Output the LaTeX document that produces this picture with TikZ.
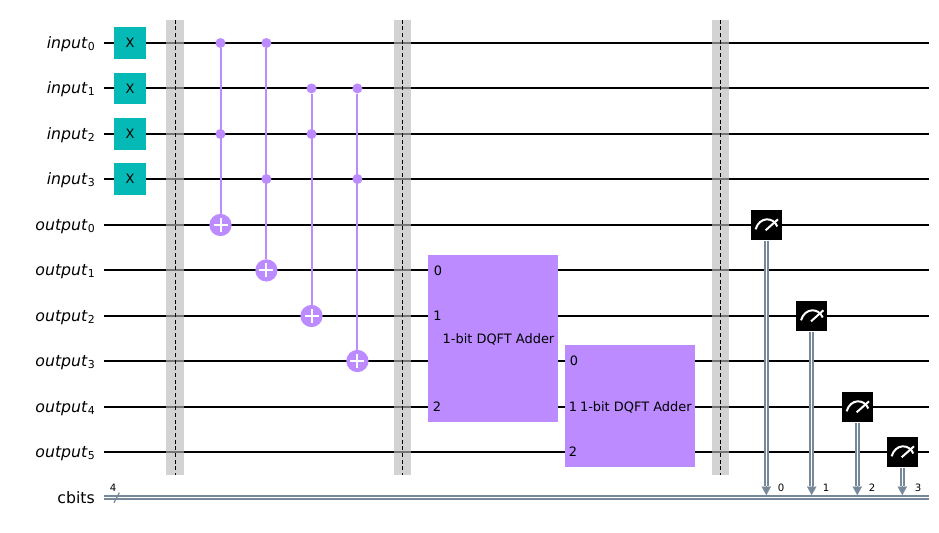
\documentclass[tikz,border=0pt]{standalone}
\usepackage{fontspec}
\setmainfont{DejaVu Sans}
\usetikzlibrary{arrows.meta,calc}

\definecolor{xteal}{HTML}{05BAB6}
\definecolor{gatepurple}{HTML}{BB8BFF}
\definecolor{cregray}{HTML}{778899}

\tikzset{
    qwire/.style={line width=1.5pt,black},
    cwire/.style={draw=cregray,line width=1.2pt,double=white,double distance=1.1pt},
    ctip/.style={draw=cregray,fill=cregray,line width=0.1pt,-{Triangle[length=6.3pt,width=7pt]}},
    qlabel/.style={anchor=base east,inner sep=0pt,font=\fontsize{11.8}{12}\selectfont},
    gatetext/.style={inner sep=0pt,font=\fontsize{9.7}{10}\selectfont},
    smalltext/.style={inner sep=0pt,font=\fontsize{7.6}{8}\selectfont},
    xgate/.style={fill=xteal,minimum size=23.4pt,inner sep=0pt,font=\fontsize{9.7}{10}\selectfont},
    barrierbox/.style={fill=black!27,fill opacity=0.64,minimum width=13pt,minimum height=341.2pt,inner sep=0pt},
    barrierline/.style={densely dashed,line width=0.75pt,black},
    ctrldot/.style={circle,fill=gatepurple,minimum size=7.5pt,inner sep=0pt},
    targetdot/.style={circle,fill=gatepurple,minimum size=16.7pt,inner sep=0pt},
    cxline/.style={gatepurple,line width=1.5pt},
    plusline/.style={white,line width=1.5pt},
    adderbox/.style={fill=gatepurple,minimum width=97pt,inner sep=0pt},
    measbox/.style={fill=black,minimum size=23.2pt,inner sep=0pt},
    meterline/.style={white,line width=1.5pt},
}

\newcommand{\reglabel}[2]{\textit{#1}\raisebox{-0.3ex}{\fontsize{8.2}{8}\selectfont #2}}
\newcommand{\plussign}[1]{%
    \draw[plusline] ($(#1)+(-7,0)$) -- ($(#1)+(7,0)$);
    \draw[plusline] ($(#1)+(0,-7)$) -- ($(#1)+(0,7)$);}
\newcommand{\metersign}[1]{%
    \draw[meterline] ($(#1)+(-10.7,4.3)$) .. controls ($(#1)+(-7,-8.5)$) and ($(#1)+(7,-8.5)$) .. ($(#1)+(11,1.5)$);
    \draw[meterline] ($(#1)+(-0.7,5.3)$) -- ($(#1)+(11.7,-5.7)$);}

\begin{document}
\begin{tikzpicture}[x=0.75pt,y=-0.75pt]
    \useasboundingbox (0,0) rectangle (939,532);

    % Register labels
    \node[qlabel] (linput0) at (95,48) {\reglabel{input}{0}};
    \node[qlabel] (linput1) at (95,93.4) {\reglabel{input}{1}};
    \node[qlabel] (linput2) at (95,139) {\reglabel{input}{2}};
    \node[qlabel] (linput3) at (95,184) {\reglabel{input}{3}};
    \node[qlabel] (loutput0) at (95,230) {\reglabel{output}{0}};
    \node[qlabel] (loutput1) at (95,275.4) {\reglabel{output}{1}};
    \node[qlabel] (loutput2) at (95,321) {\reglabel{output}{2}};
    \node[qlabel] (loutput3) at (95,366) {\reglabel{output}{3}};
    \node[qlabel] (loutput4) at (95,412) {\reglabel{output}{4}};
    \node[qlabel] (loutput5) at (95,457) {\reglabel{output}{5}};
    \node[qlabel] (lcbits) at (95,503) {cbits};

    % Wire ends
    \coordinate (w0a) at (104,43);      \coordinate (w0b) at (929,43);
    \coordinate (w1a) at (104,88.4);    \coordinate (w1b) at (929,88.4);
    \coordinate (w2a) at (104,134);     \coordinate (w2b) at (929,134);
    \coordinate (w3a) at (104,179);     \coordinate (w3b) at (929,179);
    \coordinate (w4a) at (104,225);     \coordinate (w4b) at (929,225);
    \coordinate (w5a) at (104,270.4);   \coordinate (w5b) at (929,270.4);
    \coordinate (w6a) at (104,316);     \coordinate (w6b) at (929,316);
    \coordinate (w7a) at (104,361);     \coordinate (w7b) at (929,361);
    \coordinate (w8a) at (104,407);     \coordinate (w8b) at (929,407);
    \coordinate (w9a) at (104,452);     \coordinate (w9b) at (929,452);
    \coordinate (cra) at (104,497.4);   \coordinate (crb) at (929,497.4);

    % Wires
    \draw[qwire] (w0a) -- (w0b);
    \draw[qwire] (w1a) -- (w1b);
    \draw[qwire] (w2a) -- (w2b);
    \draw[qwire] (w3a) -- (w3b);
    \draw[qwire] (w4a) -- (w4b);
    \draw[qwire] (w5a) -- (w5b);
    \draw[qwire] (w6a) -- (w6b);
    \draw[qwire] (w7a) -- (w7b);
    \draw[qwire] (w8a) -- (w8b);
    \draw[qwire] (w9a) -- (w9b);
    \draw[cwire] (cra) -- (crb);

    % Classical register width mark
    \coordinate (sla) at (114,502.7);
    \coordinate (slb) at (119.3,492.7);
    \draw[draw=cregray,line width=0.9pt] (sla) -- (slb);
    \node[smalltext] (cwidth) at (113,488) {4};

    % X gates
    \node[xgate] (x0) at (130,43) {X};
    \node[xgate] (x1) at (130,88.4) {X};
    \node[xgate] (x2) at (130,134) {X};
    \node[xgate] (x3) at (130,179) {X};

    % Barriers
    \node[barrierbox] (bar0) at (175,247.5) {};
    \node[barrierbox] (bar1) at (402.5,247.5) {};
    \node[barrierbox] (bar2) at (720.5,247.5) {};
    \draw[barrierline] (bar0.north) -- (bar0.south);
    \draw[barrierline] (bar1.north) -- (bar1.south);
    \draw[barrierline] (bar2.north) -- (bar2.south);

    % Toffoli gates
    \node[ctrldot] (c0a) at (220.5,43) {};
    \node[ctrldot] (c0b) at (220.5,134) {};
    \node[targetdot] (t0) at (220.5,225) {};
    \draw[cxline] (c0a) -- (t0);
    \plussign{t0}

    \node[ctrldot] (c1a) at (266.4,43) {};
    \node[ctrldot] (c1b) at (266.4,179) {};
    \node[targetdot] (t1) at (266.4,270.4) {};
    \draw[cxline] (c1a) -- (t1);
    \plussign{t1}

    \node[ctrldot] (c2a) at (311.5,88.4) {};
    \node[ctrldot] (c2b) at (311.5,134) {};
    \node[targetdot] (t2) at (311.5,316) {};
    \draw[cxline] (c2a) -- (t2);
    \plussign{t2}

    \node[ctrldot] (c3a) at (357.4,88.4) {};
    \node[ctrldot] (c3b) at (357.4,179) {};
    \node[targetdot] (t3) at (357.4,361) {};
    \draw[cxline] (c3a) -- (t3);
    \plussign{t3}

    % Adder blocks
    \node[adderbox,minimum height=125pt] (add0) at (493,338.3) {};
    \node[gatetext] (add0p0) at (438,270.4) {0};
    \node[gatetext] (add0p1) at (437.5,316) {1};
    \node[gatetext] (add0p2) at (437,407) {2};
    \node[gatetext] (add0name) at (498.5,339) {1-bit DQFT Adder};

    \node[adderbox,minimum height=91.6pt] (add1) at (630,406.4) {};
    \node[gatetext] (add1p0) at (574,361) {0};
    \node[gatetext] (add1p1) at (573,407) {1};
    \node[gatetext] (add1p2) at (573,452) {2};
    \node[gatetext] (add1name) at (635.8,407) {1-bit DQFT Adder};

    % Measurements
    \node[measbox] (m0) at (766.3,225) {};
    \node[measbox] (m1) at (811.7,316) {};
    \node[measbox] (m2) at (857.3,407) {};
    \node[measbox] (m3) at (902.3,452) {};
    \metersign{m0}
    \metersign{m1}
    \metersign{m2}
    \metersign{m3}

    \coordinate (h0) at (766.3,486);  \coordinate (a0) at (766.3,495);
    \coordinate (h1) at (811.7,486);  \coordinate (a1) at (811.7,495);
    \coordinate (h2) at (857.3,486);  \coordinate (a2) at (857.3,495);
    \coordinate (h3) at (902.3,486);  \coordinate (a3) at (902.3,495);
    \draw[cwire] (m0) -- (h0);
    \draw[cwire] (m1) -- (h1);
    \draw[cwire] (m2) -- (h2);
    \draw[cwire] (m3) -- (h3);
    \draw[ctip] (h0) -- (a0);
    \draw[ctip] (h1) -- (a1);
    \draw[ctip] (h2) -- (a2);
    \draw[ctip] (h3) -- (a3);

    \node[smalltext] (mb0) at (781,488) {0};
    \node[smalltext] (mb1) at (826,488) {1};
    \node[smalltext] (mb2) at (872,488) {2};
    \node[smalltext] (mb3) at (918,488) {3};
\end{tikzpicture}
\end{document}
